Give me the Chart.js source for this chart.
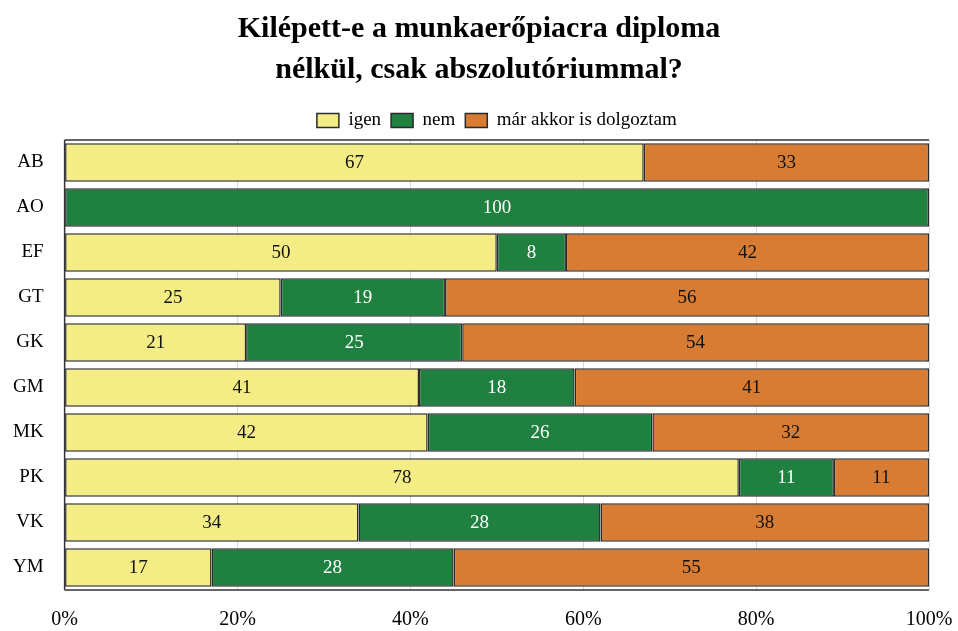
<!DOCTYPE html>
<html>
<head>
<meta charset="utf-8">
<script src="https://cdn.jsdelivr.net/npm/chart.js@4/dist/chart.umd.min.js"></script>
<style>
  html, body { margin: 0; padding: 0; background: #fff; }
  #wrap { width: 958px; height: 631px; position: relative; }
</style>
</head>
<body>
<div id="wrap"><canvas id="barChart"></canvas></div>
<script>
const categories = ['AB', 'AO', 'EF', 'GT', 'GK', 'GM', 'MK', 'PK', 'VK', 'YM'];
const igenValues = [67, 0, 50, 25, 21, 41, 42, 78, 34, 17];
const nemValues = [0, 100, 8, 19, 25, 18, 26, 11, 28, 28];
const dolgoztamValues = [33, 0, 42, 56, 54, 41, 32, 11, 38, 55];
const tickLabels = ['0%', '20%', '40%', '60%', '80%', '100%'];

const serif = '"Liberation Serif", "Times New Roman", serif';

// draws the value in the middle of each bar segment
const barLabels = {
    id: 'barLabels',
    afterDatasetsDraw(chart) {
        const ctx = chart.ctx;
        ctx.save();
        ctx.font = '19px ' + serif;
        ctx.textAlign = 'center';
        ctx.textBaseline = 'middle';
        chart.data.datasets.forEach((ds, i) => {
            const meta = chart.getDatasetMeta(i);
            meta.data.forEach((bar, j) => {
                const v = ds.data[j];
                if (!v) return;
                const x = (bar.x + bar.base) / 2;
                ctx.fillStyle = ds.labelColor;
                ctx.fillText(String(v), x, bar.y + 1);
            });
        });
        ctx.restore();
    }
};

// frame lines round the plot area; title centred on the page, legend over the plot
const frame = {
    id: 'frame',
    afterLayout(chart) {
        const a = chart.chartArea;
        chart.legend.left = a.left + a.right - chart.legend.right;
        chart.titleBlock.right = chart.width - chart.titleBlock.left;
    },
    afterDraw(chart) {
        const a = chart.chartArea;
        const ctx = chart.ctx;
        ctx.save();
        ctx.strokeStyle = '#333';
        ctx.lineWidth = 1.5;
        ctx.beginPath();
        ctx.moveTo(a.left, a.top); ctx.lineTo(a.right, a.top);
        ctx.moveTo(a.left, a.bottom); ctx.lineTo(a.right, a.bottom);
        ctx.moveTo(a.left, a.top); ctx.lineTo(a.left, a.bottom);
        ctx.stroke();
        ctx.restore();
    }
};

new Chart(document.getElementById('barChart'), {
    type: 'bar',
    data: {
        labels: categories,
        datasets: [
            { label: 'igen', data: igenValues, backgroundColor: '#F4EC84', labelColor: '#111' },
            { label: 'nem', data: nemValues, backgroundColor: '#20803F', labelColor: '#fff' },
            { label: 'már akkor is dolgoztam', data: dolgoztamValues, backgroundColor: '#D87B33', labelColor: '#111' }
        ].map(d => Object.assign(d, {
            borderColor: '#2a2a2a',
            borderWidth: 1.5,
            borderSkipped: false,
            barPercentage: 0.86,
            categoryPercentage: 1
        }))
    },
    options: {
        indexAxis: 'y',
        responsive: true,
        maintainAspectRatio: false,
        animation: false,
        layout: { padding: { left: 0, right: 29, top: 0, bottom: 0 } },
        plugins: {
            title: {
                display: true,
                text: ['Kilépett-e a munkaerőpiacra diploma', 'nélkül, csak abszolutóriummal?'],
                color: '#000',
                font: { family: serif, size: 30, weight: 'bold', lineHeight: 1.35 },
                padding: { top: 9, bottom: 11 }
            },
            legend: {
                position: 'top',
                labels: {
                    color: '#000',
                    font: { family: serif, size: 19 },
                    boxWidth: 22,
                    boxHeight: 14,
                    padding: 10
                }
            },
            tooltip: { enabled: false }
        },
        scales: {
            x: {
                stacked: true,
                min: 0,
                max: 100,
                border: { display: false },
                grid: { color: '#d8d8d8', drawTicks: false },
                afterFit: (s) => { s.height = 41; s.paddingRight = 0; s.paddingLeft = 0; },
                ticks: {
                    stepSize: 20,
                    padding: 18,
                    color: '#000',
                    font: { family: serif, size: 20 },
                    callback: (v, i) => tickLabels[i]
                }
            },
            y: {
                stacked: true,
                border: { display: false },
                grid: { display: false },
                ticks: {
                    padding: 13,
                    color: '#000',
                    font: { family: serif, size: 19 }
                }
            }
        }
    },
    plugins: [barLabels, frame]
});
</script>
</body>
</html>
